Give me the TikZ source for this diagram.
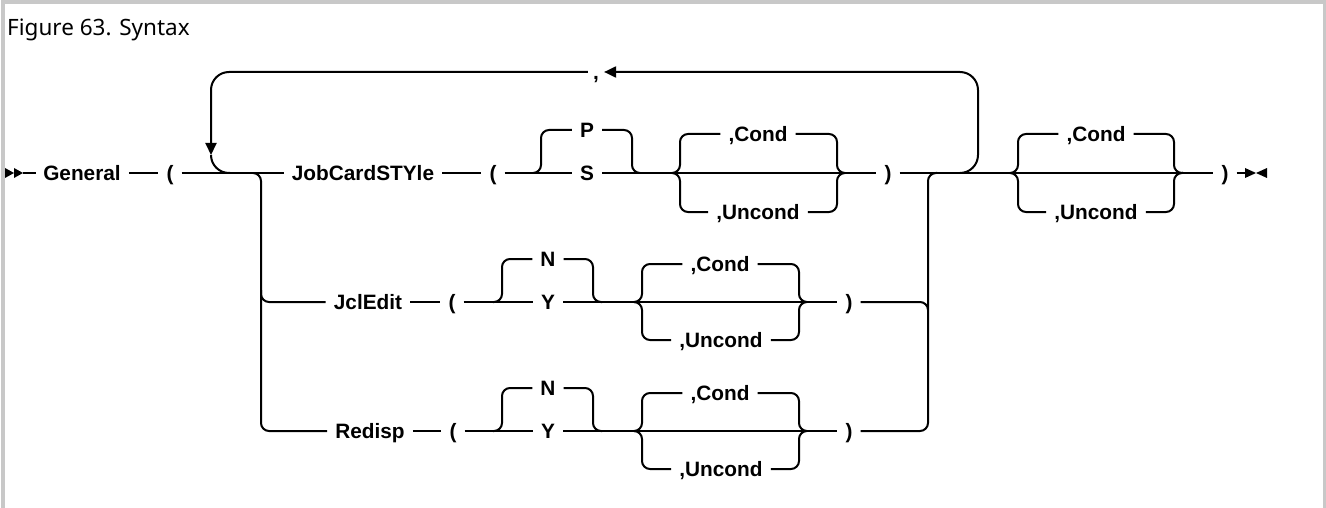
\documentclass[tikz,border=0pt]{standalone}
\usepackage{fontspec}
\usepackage{xcolor}
\usepackage{tikz}
\usetikzlibrary{arrows.meta,calc}
\setmainfont{Liberation Sans}
\newfontfamily\captionfont{Noto Sans}
\definecolor{framegray}{HTML}{C8C8C8}
\newcommand{\railfont}{\bfseries\fontsize{20.8}{25}\selectfont}

\begin{document}
\begin{tikzpicture}[
        x=1pt, y=-1pt,
        railword/.style={
            inner xsep=8pt,
            inner ysep=0pt,
            text height=14.6pt,
            text depth=0pt,
            font=\railfont
        },
        rail/.style={
            draw=black,
            line width=2pt
        },
        railbend/.style={
            rail,
            rounded corners=8pt
        },
        loopback/.style={
            rail,
            rounded corners=18pt
        },
        looptip/.style={
            -{Triangle[length=12pt,width=11pt]}
        }
    ]
        \useasboundingbox (0,0) rectangle (1326,508);

        % Frame and caption
        \draw[framegray, line width=4pt] (3,508) -- (3,2) -- (1326,2);
        \draw[framegray, line width=3pt] (1324.5,0) -- (1324.5,508);
        \node[anchor=base west, inner sep=0pt, font=\captionfont\fontsize{22.5}{27}\selectfont] (title) at (7,36) {Figure 63. Syntax};

        % Start of statement
        \coordinate (begin) at (23,173);
        \fill (5,168) -- (14,173) -- (5,178) -- cycle;
        \fill (14,168) -- (23,173) -- (14,178) -- cycle;
        \draw[rail] (begin) -- ++(13,0);

        \node[railword] (gen) at (82,173) {General};
        \node[railword] (lp1) at (170,173) {(};
        \node[railword] (job) at (363,173) {JobCardSTYle};
        \node[railword] (lp1b) at (493,173) {(};
        \node[railword] (optP) at (587,130) {P};
        \node[railword] (optS) at (587,173) {S};
        \node[railword] (cond1) at (758,134) {,Cond};
        \node[railword] (unc1) at (758,212) {,Uncond};
        \node[railword] (rp1) at (888,173) {)};

        \coordinate (jL1) at (533,173);
        \coordinate (jR1) at (640,173);
        \coordinate (bL1) at (672,173);
        \coordinate (bR1) at (845,173);

        \draw[rail] (gen.east) -- (lp1.west);
        \draw[rail] (lp1.east) -- (job.west);
        \draw[rail] (job.east) -- (lp1b.west);
        \draw[rail] (lp1b.east) -- (optS.west);
        \draw[railbend] (jL1) -- ++(8,0) |- (optP.west);
        \draw[railbend] (jR1) -- ++(-8,0) |- (optP.east);
        \draw[rail] (optS.east) -- (bL1);
        \draw[railbend] (bL1) -- ++(8,0) |- (cond1.west);
        \draw[railbend] (bL1) -- ++(8,0) |- (unc1.west);
        \draw[railbend] (bR1) -- ++(-8,0) |- (cond1.east);
        \draw[railbend] (bR1) -- ++(-8,0) |- (unc1.east);
        \draw[rail] (bL1) -- (bR1);
        \draw[rail] (bR1) -- (rp1.west);

        % Repeat loop
        \node[railword, inner xsep=5pt] (comma) at (596,72) {,};
        \coordinate (loop) at (960,173);
        \coordinate (drop) at (211,155);
        \coordinate (rejoin) at (230,173);
        \draw[loopback, looptip] (loop) -- ++(18,0) |- (comma.east);
        \draw[loopback, looptip] (comma.west) -| (drop);
        \draw[loopback] (drop) |- (rejoin);

        % JclEdit row
        \coordinate (split) at (253,173);
        \coordinate (fork) at (261,290);
        \node[railword] (jcl) at (368,302) {JclEdit};
        \node[railword] (lp2) at (452,302) {(};
        \node[railword] (optN2) at (548,259) {N};
        \node[railword] (optY2) at (548,302) {Y};
        \node[railword] (cond2) at (720,264) {,Cond};
        \node[railword] (unc2) at (721,340) {,Uncond};
        \node[railword] (rp2) at (849,302) {)};

        \coordinate (jL2) at (493,302);
        \coordinate (jR2) at (602,302);
        \coordinate (bL2) at (635,302);
        \coordinate (bR2) at (807,302);

        \draw[railbend] (fork) |- (jcl.west);
        \draw[rail] (jcl.east) -- (lp2.west);
        \draw[rail] (lp2.east) -- (optY2.west);
        \draw[railbend] (jL2) -- ++(9,0) |- (optN2.west);
        \draw[railbend] (jR2) -- ++(-9,0) |- (optN2.east);
        \draw[rail] (optY2.east) -- (bL2);
        \draw[railbend] (bL2) -- ++(7,0) |- (cond2.west);
        \draw[railbend] (bL2) -- ++(7,0) |- (unc2.west);
        \draw[railbend] (bR2) -- ++(-8,0) |- (cond2.east);
        \draw[railbend] (bR2) -- ++(-8,0) |- (unc2.east);
        \draw[rail] (bL2) -- (bR2);
        \draw[rail] (bR2) -- (rp2.west);

        % Redisp row
        \node[railword] (red) at (370,431) {Redisp};
        \node[railword] (lp3) at (453,431) {(};
        \node[railword] (optN3) at (548,388) {N};
        \node[railword] (optY3) at (548,431) {Y};
        \node[railword] (cond3) at (720,393) {,Cond};
        \node[railword] (unc3) at (721,469) {,Uncond};
        \node[railword] (rp3) at (849,431) {)};

        \coordinate (jL3) at (493,431);
        \coordinate (jR3) at (602,431);
        \coordinate (bL3) at (635,431);
        \coordinate (bR3) at (807,431);

        \draw[railbend] (split) -- ++(8,0) |- (red.west);
        \draw[rail] (red.east) -- (lp3.west);
        \draw[rail] (lp3.east) -- (optY3.west);
        \draw[railbend] (jL3) -- ++(9,0) |- (optN3.west);
        \draw[railbend] (jR3) -- ++(-9,0) |- (optN3.east);
        \draw[rail] (optY3.east) -- (bL3);
        \draw[railbend] (bL3) -- ++(7,0) |- (cond3.west);
        \draw[railbend] (bL3) -- ++(7,0) |- (unc3.west);
        \draw[railbend] (bR3) -- ++(-8,0) |- (cond3.east);
        \draw[railbend] (bR3) -- ++(-8,0) |- (unc3.east);
        \draw[rail] (bL3) -- (bR3);
        \draw[rail] (bR3) -- (rp3.west);

        % Merge back into the main line
        \coordinate (merge) at (928,173);
        \draw[railbend] (rp3.east) -| (merge) -- ++(9,0);
        \draw[railbend] (rp2.east) -| ($(merge)+(0,137)$);

        % Trailing options
        \node[railword] (cond0) at (1096,134) {,Cond};
        \node[railword] (unc0) at (1096,212) {,Uncond};
        \node[railword] (rp0) at (1225,173) {)};
        \coordinate (bL0) at (1010,173);
        \coordinate (bR0) at (1183,173);
        \coordinate (stop) at (1245,173);

        \draw[rail] (rp1.east) -- (bL0);
        \draw[railbend] (bL0) -- ++(8,0) |- (cond0.west);
        \draw[railbend] (bL0) -- ++(8,0) |- (unc0.west);
        \draw[railbend] (bR0) -- ++(-9,0) |- (cond0.east);
        \draw[railbend] (bR0) -- ++(-9,0) |- (unc0.east);
        \draw[rail] (bL0) -- (bR0);
        \draw[rail] (bR0) -- (rp0.west);
        \draw[rail] (rp0.east) -- (stop);

        % End of statement
        \fill (1245,168) -- (1256,173) -- (1245,178) -- cycle;
        \fill (1267,168) -- (1256,173) -- (1267,178) -- cycle;
    \end{tikzpicture}
\end{document}
